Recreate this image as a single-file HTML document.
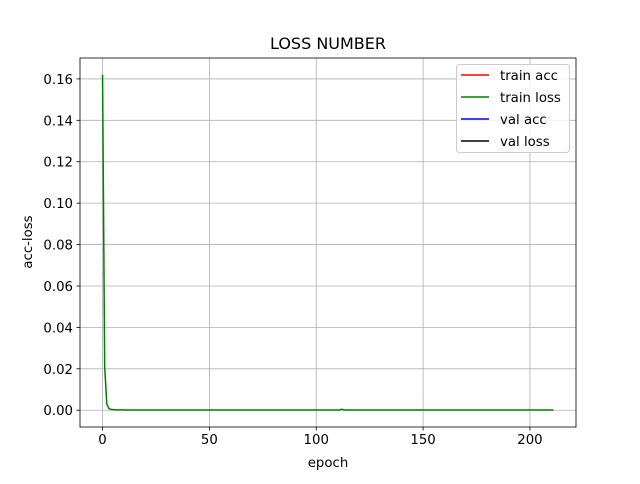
<!DOCTYPE html>
<html><head><meta charset="utf-8"><style>
body{margin:0;background:#fff;font-family:"DejaVu Sans","Liberation Sans",sans-serif}
text{font-family:"DejaVu Sans","Liberation Sans",sans-serif}
</style></head><body>
<svg id="chart" width="640" height="480" xmlns="http://www.w3.org/2000/svg">
<rect width="640" height="480" fill="#fff"/>
<g id="grid"></g><g id="series"></g><g id="axes"></g>
<text x="328" y="49" text-anchor="middle" font-size="16">LOSS NUMBER</text>
<text x="328" y="467" text-anchor="middle" font-size="13.3">epoch</text>
<text x="32" y="242" text-anchor="middle" font-size="13.3" transform="rotate(-90 32 242)">acc-loss</text>
<g>
<rect x="456.5" y="64.5" width="113" height="88" rx="3" fill="#fff" fill-opacity="0.8" stroke="#ccc"/>
<line x1="461" x2="489" y1="75" y2="75" stroke="red" stroke-width="1.5"/><text x="500" y="80" font-size="13.3">train acc</text>
<line x1="461" x2="489" y1="97" y2="97" stroke="green" stroke-width="1.5"/><text x="500" y="102" font-size="13.3">train loss</text>
<line x1="461" x2="489" y1="119" y2="119" stroke="blue" stroke-width="1.5"/><text x="500" y="124" font-size="13.3">val acc</text>
<line x1="461" x2="489" y1="141" y2="141" stroke="black" stroke-width="1.5"/><text x="500" y="146" font-size="13.3">val loss</text>
</g>
</svg>
<script>
const xTicks=[0,50,100,150,200];
const yTicks=[0,0.02,0.04,0.06,0.08,0.10,0.12,0.14,0.16];
const yTickLabels=["0.00","0.02","0.04","0.06","0.08","0.10","0.12","0.14","0.16"];
const trainLoss=[0.162,0.021,0.003,0.0008,0.0004,0.0003,0.0002,0.0002,0.0002,0.0002,
0.0001,0.0001,0.0001,0.0001,0.0001,0.0001,0.0001,0.0001,0.0001,0.0001,
0.0001,0.0001,0.0001,0.0001,0.0001,0.0001,0.0001,0.0001,0.0001,0.0001,
0.0001,0.0001,0.0001,0.0001,0.0001,0.0001,0.0001,0.0001,0.0001,0.0001,
0.0001,0.0001,0.0001,0.0001,0.0001,0.0001,0.0001,0.0001,0.0001,0.0001,
0.0001,0.0001,0.0001,0.0001,0.0001,0.0001,0.0001,0.0001,0.0001,0.0001,
0.0001,0.0001,0.0001,0.0001,0.0001,0.0001,0.0001,0.0001,0.0001,0.0001,
0.0001,0.0001,0.0001,0.0001,0.0001,0.0001,0.0001,0.0001,0.0001,0.0001,
0.0001,0.0001,0.0001,0.0001,0.0001,0.0001,0.0001,0.0001,0.0001,0.0001,
0.0001,0.0001,0.0001,0.0001,0.0001,0.0001,0.0001,0.0001,0.0001,0.0001,
0.0001,0.0001,0.0001,0.0001,0.0001,0.0001,0.0001,0.0001,0.0001,0.0001,
0.0001,0.0001,0.0005,0.0001,0.0001,0.0001,0.0001,0.0001,0.0001,0.0001,
0.0001,0.0001,0.0001,0.0001,0.0001,0.0001,0.0001,0.0001,0.0001,0.0001,
0.0001,0.0001,0.0001,0.0001,0.0001,0.0001,0.0001,0.0001,0.0001,0.0001,
0.0001,0.0001,0.0001,0.0001,0.0001,0.0001,0.0001,0.0001,0.0001,0.0001,
0.0001,0.0001,0.0001,0.0001,0.0001,0.0001,0.0001,0.0001,0.0001,0.0001,
0.0001,0.0001,0.0001,0.0001,0.0001,0.0001,0.0001,0.0001,0.0001,0.0001,
0.0001,0.0001,0.0001,0.0001,0.0001,0.0001,0.0001,0.0001,0.0001,0.0001,
0.0001,0.0001,0.0001,0.0001,0.0001,0.0001,0.0001,0.0001,0.0001,0.0001,
0.0001,0.0001,0.0001,0.0001,0.0001,0.0001,0.0001,0.0001,0.0001,0.0001,
0.0001,0.0001,0.0001,0.0001,0.0001,0.0001,0.0001,0.0001,0.0001,0.0001,
0.0001,0.0001];
const L=80,R=576,T=58,B=427;
const n=trainLoss.length;
const xmin=-0.05*(n-1),xmax=(n-1)*1.05;
const ymax=Math.max(...trainLoss),ymin0=0;
const yr=ymax-ymin0, ymin=ymin0-0.05*yr, ymx=ymax+0.05*yr;
const X=v=>L+(v-xmin)/(xmax-xmin)*(R-L);
const Y=v=>B-(v-ymin)/(ymx-ymin)*(B-T);
const NS="http://www.w3.org/2000/svg";
function mk(tag,attrs,parent){const e=document.createElementNS(NS,tag);for(const k in attrs)e.setAttribute(k,attrs[k]);parent.appendChild(e);return e;}
const grid=document.getElementById('grid'),axes=document.getElementById('axes'),series=document.getElementById('series');
xTicks.forEach(t=>{const x=X(t);
 const g=mk('line',{x1:x,x2:x,y1:T,y2:B,stroke:'#b0b0b0','stroke-width':0.8},grid);
 
 
 mk('line',{x1:x,x2:x,y1:B,y2:B+3.5,stroke:'#000','stroke-width':0.8},axes);
 const tx=mk('text',{x:x,y:B+17,'text-anchor':'middle','font-size':13.3},axes);tx.textContent=t;
 
 
});
yTicks.forEach((t,i)=>{const y=Y(t);
 const g=mk('line',{x1:L,x2:R,y1:y,y2:y,stroke:'#b0b0b0','stroke-width':0.8},grid);
 
 
 mk('line',{x1:L-3.5,x2:L,y1:y,y2:y,stroke:'#000','stroke-width':0.8},axes);
 const tx=mk('text',{x:L-7,y:y+5,'text-anchor':'end','font-size':13.3},axes);tx.textContent=yTickLabels[i];
 
 
});
const fr=mk('rect',{x:L,y:T,width:R-L,height:B-T,fill:'none',stroke:'#000','stroke-width':0.8},axes);


const p=mk('polyline',{points:trainLoss.map((v,i)=>X(i)+','+Y(v)).join(' '),fill:'none',stroke:'green','stroke-width':1.5},series);


</script>
</body></html>
